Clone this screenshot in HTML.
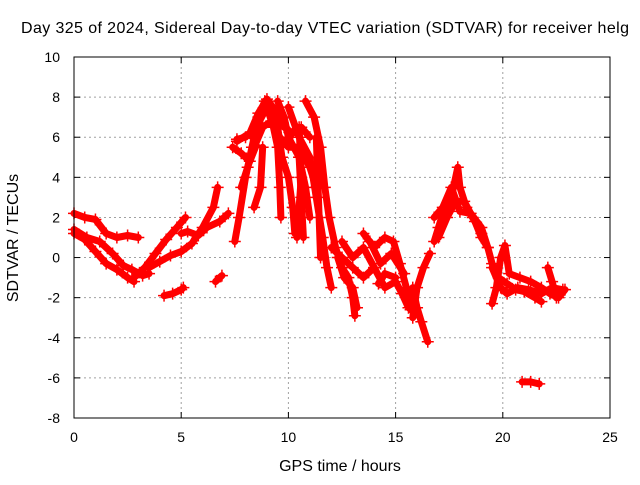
<!DOCTYPE html>
<html><head><meta charset="utf-8"><style>
html,body{margin:0;padding:0;background:#fff}
svg text{font-family:"Liberation Sans",sans-serif;font-size:14px;fill:#000}
svg text.big{font-size:16px}
</style></head><body>
<svg id="c" width="640" height="480" xmlns="http://www.w3.org/2000/svg">
<rect width="640" height="480" fill="#fff"/>
<text class="big" x="325" y="33" text-anchor="middle" textLength="608" lengthAdjust="spacing">Day 325 of 2024, Sidereal Day-to-day VTEC variation (SDTVAR) for receiver helg</text>
<text class="big" x="340" y="471" text-anchor="middle">GPS time / hours</text>
<text class="big" transform="translate(18,238) rotate(-90)" text-anchor="middle">SDTVAR / TECUs</text>
<g id="grid"></g><g id="ticks"></g><g id="data"></g>
<rect x="74" y="57" width="536" height="361" fill="none" stroke="#000" stroke-width="1"/>
</svg>
<script>
const xTicks=[0,5,10,15,20,25];
const yTicks=[-8,-6,-4,-2,0,2,4,6,8,10];
const tracks=[
[[0,2.2],[0.5,2.0],[1,1.9],[1.5,1.2],[2,1.0],[2.5,1.1],[3,1.0]],
[[0,1.2],[0.5,0.9],[1,0.3],[1.5,-0.3],[2,-0.6],[2.5,-1.0],[2.8,-1.2]],
[[0,1.4],[0.6,1.0],[1.2,0.8],[1.8,0.2],[2.3,-0.4],[2.7,-0.6],[3.2,-0.9],[3.5,-0.8]],
[[2.8,-1],[3.3,-0.5],[3.8,0.2],[4.3,0.9],[4.8,1.5],[5.2,2.0]],
[[3.5,-0.5],[4,-0.2],[4.5,0.1],[5,0.3],[5.5,0.7],[6,1.5],[6.5,2.5],[6.7,3.5]],
[[5,1.2],[5.3,1.3],[5.8,1.1],[6.2,1.5],[6.8,1.8],[7.2,2.2]],
[[4.2,-1.9],[4.6,-1.8],[5.0,-1.6],[5.1,-1.5]],
[[6.6,-1.2],[6.9,-0.9]],
[[7.5,0.8],[7.7,2],[8,4],[8.3,5.5],[8.6,7],[8.9,7.8],[9.2,7.6],[9.5,6.5],[9.7,5],[10,4],[10.2,2.5],[10.3,1.2]],
[[7.6,5.9],[8,6],[8.5,6.5],[9,7.5],[9.3,6.5],[9.5,5.5],[9.6,3.5],[9.65,2]],
[[8.8,5.5],[8.7,3.5],[8.4,2.5]],
[[9.5,7.8],[9.8,7],[10,6],[10.5,5],[10.8,3.5],[11,2]],
[[10.8,7.8],[11.2,7],[11.5,5.5],[11.7,3.5],[11.9,2],[12.2,0.5],[12.5,-0.5],[12.8,-1],[13,-2],[13.1,-2.9]],
[[10,7.5],[10.5,6],[11,5],[11.3,3],[11.6,1],[11.8,-0.5],[12,-1.5]],
[[10.5,5],[10.6,3],[10.7,1]],
[[12,0.5],[12.5,0],[13,-0.5],[13.5,-1],[14,-0.5],[14.5,-1.5],[15,-1.2],[15.3,-1.8],[15.6,-2.5]],
[[13.5,1.2],[14,0.5],[14.5,1.0],[14.9,0.8],[15.2,-0.3],[15.5,-1.5],[15.7,-2.6]],
[[14.2,-1.3],[14.5,-0.8],[15,-1.0]],
[[15.8,-1.5],[16,-2.5],[16.2,-3.2],[16.5,-4.2]],
[[15.8,-3],[16,-1.5],[16.3,-0.5],[16.6,0.2]],
[[16.8,0.8],[17,1.5],[17.3,2.5],[17.6,3],[17.9,4.5],[18,3.5],[18.3,2.5],[18.7,1.8],[19,1],[19.3,0.5],[19.5,-0.3],[19.8,-1],[20.2,-1.3],[20.6,-1.6],[21,-1.7],[21.5,-2],[21.8,-2.2]],
[[16.8,2.0],[17.2,2.5],[17.6,3.5],[18,2.3],[18.5,2.2],[19,1.5],[19.3,0.5]],
[[19.5,-0.5],[19.9,-1.5],[20.2,-1.8],[20.7,-1.5],[21.2,-1.6],[21.8,-1.8],[22.3,-1.5],[22.8,-1.6]],
[[19.5,-2.3],[19.7,-1.5],[19.9,0],[20.1,0.6],[20.3,-0.8],[20.8,-1.0],[21.3,-1.2],[21.8,-1.5],[22.2,-1.8],[22.6,-2.0],[22.9,-1.6]],
[[22.1,-0.5],[22.3,-1.2],[22.5,-2]],
[[20.9,-6.2],[21.3,-6.2],[21.7,-6.3]],
[[7.6,5.8],[8.2,6.2],[8.6,7.2],[9,7.9],[9.4,7.3],[9.8,6.5],[10.2,6.2],[10.6,6.5],[11,6]],
[[7.8,3.5],[8.1,4.5],[8.4,5.5],[8.8,6.5],[9.2,6.8],[9.6,6],[10,5.5],[10.5,5.5],[11,4.5],[11.3,3.5]],
[[7.4,5.5],[7.8,5.2],[8.2,4.8],[8.5,5.6]],
[[10.5,6.5],[10.6,4],[10.5,2.5],[10.4,1]],
[[11.3,6],[11.4,3],[11.5,0]],
[[12.5,0.8],[13,0],[13.5,0.5],[14,-0.5]],
[[12.3,0],[12.6,-1],[13,-1.5],[13.2,-2.5]],
[[13.8,0.8],[14.3,-0.3],[14.8,0.2],[15.4,-0.8]],
[[17,1.0],[17.4,2],[17.8,2.8],[18.2,2.8],[18.6,2.0],[19,1.2]]
];
const NS='http://www.w3.org/2000/svg';
const X0=74,X1=610,Y0=418,Y1=57;
function sx(v){return X0+(v-0)/(25-0)*(X1-X0);}
function sy(v){return Y0-(v-(-8))/(10-(-8))*(Y0-Y1);}
function mk(t,a,p){const e=document.createElementNS(NS,t);for(const k in a)e.setAttribute(k,a[k]);p.appendChild(e);return e;}
const grid=document.getElementById('grid'),ticks=document.getElementById('ticks'),data=document.getElementById('data');
xTicks.forEach(v=>{
  const x=sx(v);
  if(v>0&&v<25){const g=mk('line',{x1:x,x2:x,y1:Y1,y2:Y0,stroke:'#a0a0a0','stroke-dasharray':'2,3'},grid);
  
  }
  mk('line',{x1:x,x2:x,y1:Y0,y2:Y0-6,stroke:'#000'},ticks);
  mk('line',{x1:x,x2:x,y1:Y1,y2:Y1+6,stroke:'#000'},ticks);
  const t=mk('text',{x:x,y:Y0+24,'text-anchor':'middle'},ticks);t.textContent=v;
  
  
});
yTicks.forEach(v=>{
  const y=sy(v);
  if(v>-8&&v<10){const g=mk('line',{x1:X0,x2:X1,y1:y,y2:y,stroke:'#a0a0a0','stroke-dasharray':'2,3'},grid);
  
  }
  mk('line',{x1:X0,x2:X0+6,y1:y,y2:y,stroke:'#000'},ticks);
  mk('line',{x1:X1,x2:X1-6,y1:y,y2:y,stroke:'#000'},ticks);
  const t=mk('text',{x:X0-14,y:y+5,'text-anchor':'end'},ticks);t.textContent=v;
  
  
});
tracks.forEach((tr,i)=>{
  const pts=tr.map(p=>sx(p[0])+','+sy(p[1])).join(' ');
  const pl=mk('polyline',{points:pts,fill:'none',stroke:'#f00','stroke-width':7,'stroke-linejoin':'round','stroke-linecap':'round'},data);
  
  
  tr.forEach(p=>{
    const x=sx(p[0]),y=sy(p[1]);
    const m=mk('path',{d:`M${x-6},${y}h12M${x},${y-6}v12`,stroke:'#f00','stroke-width':1.5},data);
    
    
  });
});
</script>
</body></html>
